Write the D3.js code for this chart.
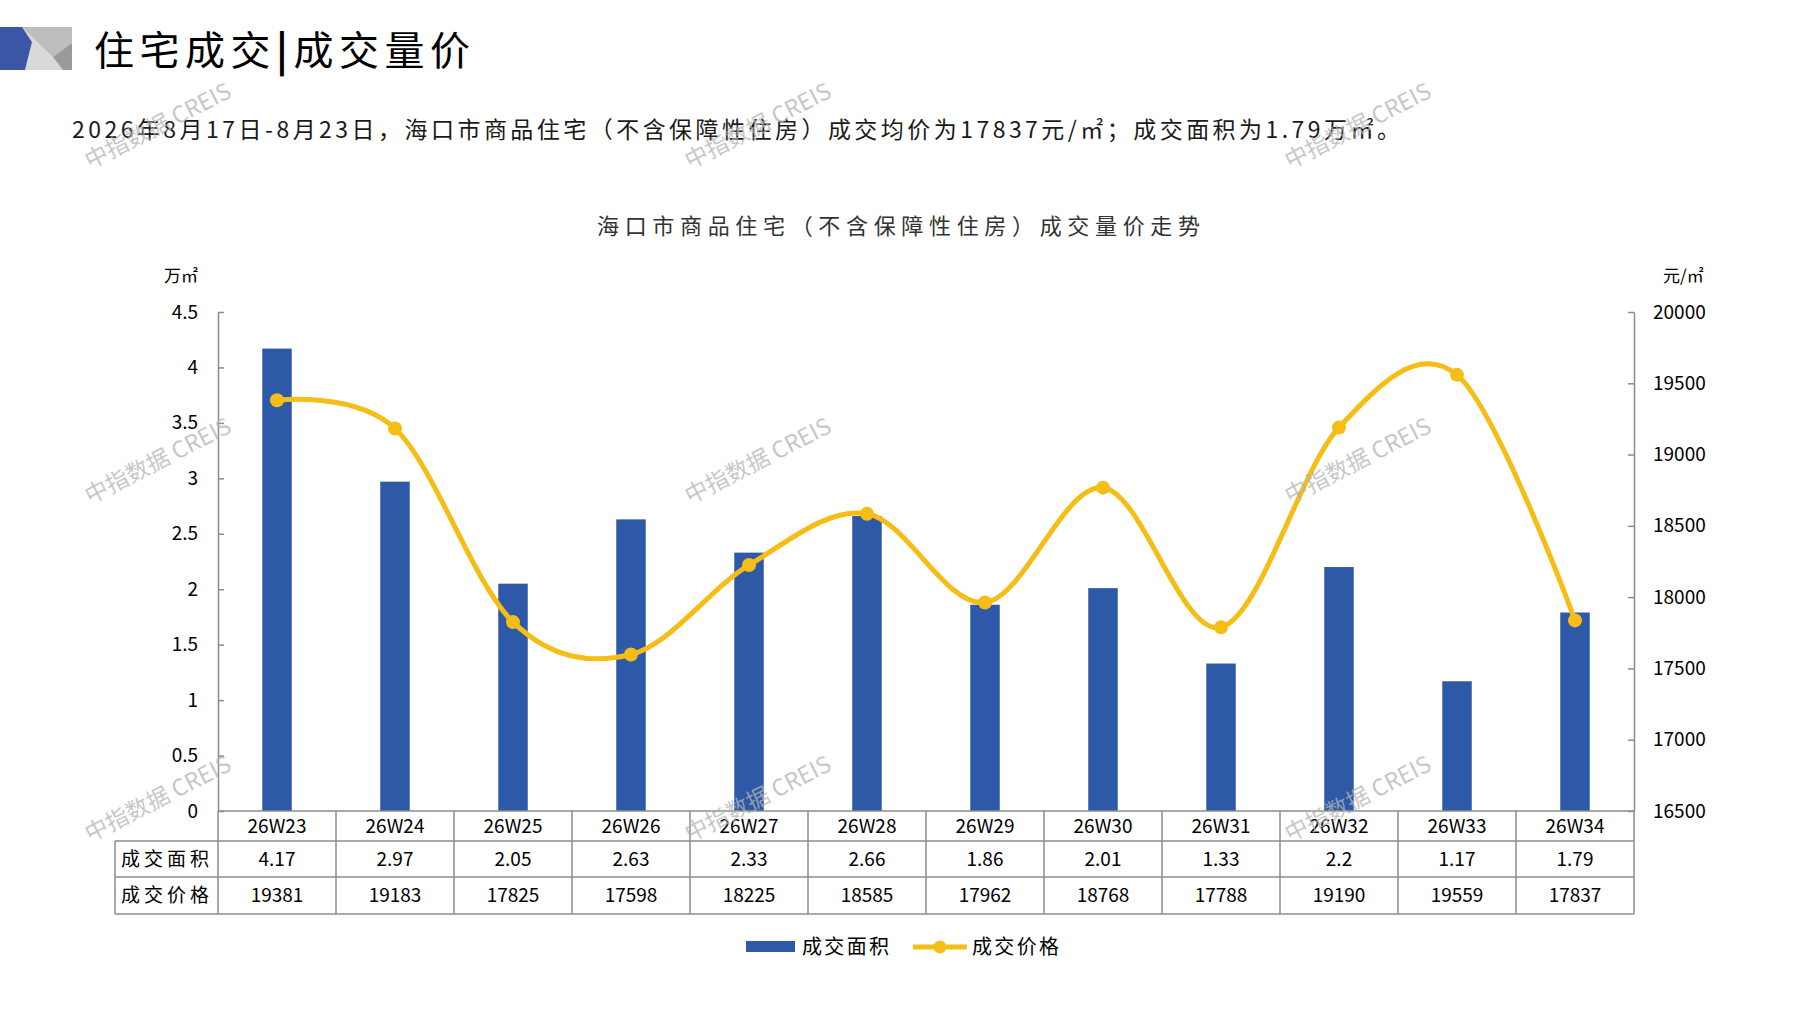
<!DOCTYPE html>
<html>
<head>
    <meta charset="utf-8">
    <title>海口市商品住宅成交量价走势</title>
    <script src="https://d3js.org/d3.v7.min.js"></script>
    <style>
        body { margin: 0; background: #fff; }
        svg { display: block; font-family: "Noto Sans CJK SC", "Noto Sans", sans-serif; }
        .axis path, .axis line { stroke: #8c8c8c; stroke-width: 1.5; }
        .axis text { font-size: 19px; fill: #000; font-family: "Noto Sans CJK SC", sans-serif; }
        .table-line { stroke: #8c8c8c; stroke-width: 1.5; }
        .cell { font-size: 19px; fill: #000; }
        .watermark { font-size: 23px; fill: #b4b4b4; fill-opacity: 0.75; font-family: "Noto Sans CJK SC", sans-serif; }
    </style>
</head>
<body>
    <svg width="1797" height="1010"></svg>

    <script>
        // Chart data
        const categories = ["26W23", "26W24", "26W25", "26W26", "26W27", "26W28",
                            "26W29", "26W30", "26W31", "26W32", "26W33", "26W34"];
        const areaValues = [4.17, 2.97, 2.05, 2.63, 2.33, 2.66, 1.86, 2.01, 1.33, 2.2, 1.17, 1.79];
        const priceValues = [19381, 19183, 17825, 17598, 18225, 18585, 17962, 18768, 17788, 19190, 19559, 17837];
        const areaTicks = [0, 0.5, 1, 1.5, 2, 2.5, 3, 3.5, 4, 4.5];
        const priceTicks = [16500, 17000, 17500, 18000, 18500, 19000, 19500, 20000];
        const rowLabels = ["成交面积", "成交价格"];

        const svg = d3.select("svg");

        const plotLeft = 218, plotRight = 1634, plotTop = 312, plotBottom = 811;
        const tableLeft = 115;
        const rowLines = [811, 841, 877, 914];

        const x = d3.scaleBand().domain(categories).range([plotLeft, plotRight]);
        const yArea = d3.scaleLinear().domain([0, 4.5]).range([plotBottom, plotTop]);
        const yPrice = d3.scaleLinear().domain([16500, 20000]).range([plotBottom, plotTop]);

        const blue = "#2e59a7";
        const gold = "#f6bd16";

        // Logo block
        const logo = svg.append("g");
        logo.append("polygon").attr("points", "22,27 72,27 72,70 25,70 32,42").attr("fill", "#d9d9d9");
        logo.append("polygon").attr("points", "22,27 72,27 72,43 53,57").attr("fill", "#bdbdbd");
        logo.append("polygon").attr("points", "72,43 72,70 63,70 53,57").attr("fill", "#9a9a9a");
        logo.append("polygon").attr("points", "0,27 22,27 32,42 25,70 0,70").attr("fill", "#3a56a5");

        // Heading
        const head = svg.append("text")
            .attr("x", 94).attr("y", 48)
            .attr("dominant-baseline", "central")
            .attr("font-size", 40)
            .attr("textLength", 376)
            .attr("lengthAdjust", "spacing")
            .attr("fill", "#000");
        head.append("tspan").text("住宅成交");
        head.append("tspan").attr("font-weight", 700).text("|");
        head.append("tspan").text("成交量价");

        // Subtitle
        svg.append("text")
            .attr("x", 72).attr("y", 128)
            .attr("dominant-baseline", "central")
            .attr("font-size", 23)
            .attr("textLength", 1328)
            .attr("lengthAdjust", "spacing")
            .attr("fill", "#1a1a1a")
            .text("2026年8月17日-8月23日，海口市商品住宅（不含保障性住房）成交均价为17837元/㎡；成交面积为1.79万㎡。");

        // Chart title
        svg.append("text")
            .attr("x", 597).attr("y", 224)
            .attr("dominant-baseline", "central")
            .attr("font-size", 22)
            .attr("textLength", 603)
            .attr("lengthAdjust", "spacing")
            .attr("fill", "#333")
            .text("海口市商品住宅（不含保障性住房）成交量价走势");

        // Unit labels
        svg.append("text").attr("x", 164).attr("y", 274)
            .attr("dominant-baseline", "central").attr("font-size", 17).text("万㎡");
        svg.append("text").attr("x", 1663).attr("y", 274)
            .attr("dominant-baseline", "central").attr("font-size", 17).text("元/㎡");

        // Axes
        svg.append("g")
            .attr("class", "axis")
            .attr("transform", `translate(${plotLeft},0)`)
            .call(d3.axisLeft(yArea).tickValues(areaTicks).tickFormat(d => String(d))
                .tickSizeInner(-6).tickSizeOuter(0).tickPadding(20));

        svg.append("g")
            .attr("class", "axis")
            .attr("transform", `translate(${plotRight},0)`)
            .call(d3.axisRight(yPrice).tickValues(priceTicks).tickFormat(d => String(d))
                .tickSizeInner(-6).tickSizeOuter(0).tickPadding(19));

        // Bars
        const barW = x.bandwidth() * 0.25;
        svg.append("g")
            .selectAll("rect")
            .data(categories)
            .enter().append("rect")
            .attr("x", d => x(d) + (x.bandwidth() - barW) / 2)
            .attr("y", (d, i) => yArea(areaValues[i]))
            .attr("width", barW)
            .attr("height", (d, i) => plotBottom - yArea(areaValues[i]))
            .attr("fill", blue);

        // Price line
        const pts = categories.map((c, i) => [x(c) + x.bandwidth() / 2, yPrice(priceValues[i])]);
        svg.append("path")
            .datum(pts)
            .attr("fill", "none")
            .attr("stroke", gold)
            .attr("stroke-width", 5)
            .attr("d", d3.line().curve(d3.curveCatmullRom.alpha(0)));

        svg.append("g")
            .selectAll("circle")
            .data(pts)
            .enter().append("circle")
            .attr("cx", d => d[0])
            .attr("cy", d => d[1])
            .attr("r", 7)
            .attr("fill", gold);

        // Data table
        const table = svg.append("g");
        table.append("line").attr("class", "table-line")
            .attr("x1", plotLeft).attr("x2", plotRight).attr("y1", rowLines[0]).attr("y2", rowLines[0]);
        rowLines.slice(1).forEach(y => {
            table.append("line").attr("class", "table-line")
                .attr("x1", tableLeft).attr("x2", plotRight).attr("y1", y).attr("y2", y);
        });
        table.append("line").attr("class", "table-line")
            .attr("x1", tableLeft).attr("x2", tableLeft).attr("y1", rowLines[1]).attr("y2", rowLines[3]);
        categories.concat([null]).forEach(c => {
            const xx = c === null ? plotRight : x(c);
            table.append("line").attr("class", "table-line")
                .attr("x1", xx).attr("x2", xx).attr("y1", rowLines[0]).attr("y2", rowLines[3]);
        });

        const rowMid = i => (rowLines[i] + rowLines[i + 1]) / 2 - 2;
        const rows = [categories, areaValues.map(String), priceValues.map(String)];
        rows.forEach((vals, r) => {
            table.append("g")
                .selectAll("text")
                .data(vals)
                .enter().append("text")
                .attr("class", "cell")
                .attr("x", (d, i) => x(categories[i]) + x.bandwidth() / 2)
                .attr("y", rowMid(r))
                .attr("text-anchor", "middle")
                .attr("dominant-baseline", "central")
                .attr("font-size", r === 0 ? 18 : 19)
                .text(d => d);
        });
        rowLabels.forEach((t, r) => {
            table.append("text")
                .attr("class", "cell")
                .attr("x", 121).attr("y", rowMid(r + 1))
                .attr("dominant-baseline", "central")
                .attr("textLength", 88)
                .attr("lengthAdjust", "spacing")
                .text(t);
        });

        // Legend
        const legend = svg.append("g");
        legend.append("rect").attr("x", 746).attr("y", 941).attr("width", 49).attr("height", 11).attr("fill", blue);
        legend.append("text").attr("x", 802).attr("y", 945).attr("dominant-baseline", "central")
            .attr("font-size", 20).attr("textLength", 87).attr("lengthAdjust", "spacing").text("成交面积");
        legend.append("line").attr("x1", 913).attr("x2", 967).attr("y1", 947).attr("y2", 947)
            .attr("stroke", gold).attr("stroke-width", 5);
        legend.append("circle").attr("cx", 940).attr("cy", 947).attr("r", 6.5).attr("fill", gold);
        legend.append("text").attr("x", 972).attr("y", 945).attr("dominant-baseline", "central")
            .attr("font-size", 20).attr("textLength", 87).attr("lengthAdjust", "spacing").text("成交价格");

        // Watermarks
        const wmX = [157, 757, 1357], wmY = [124, 459, 797];
        wmY.forEach(wy => wmX.forEach(wx => {
            svg.append("text")
                .attr("class", "watermark")
                .attr("text-anchor", "middle")
                .attr("dominant-baseline", "central")
                .attr("transform", `translate(${wx},${wy}) rotate(-27)`)
                .text("中指数据 CREIS");
        }));
    </script>
</body>
</html>
